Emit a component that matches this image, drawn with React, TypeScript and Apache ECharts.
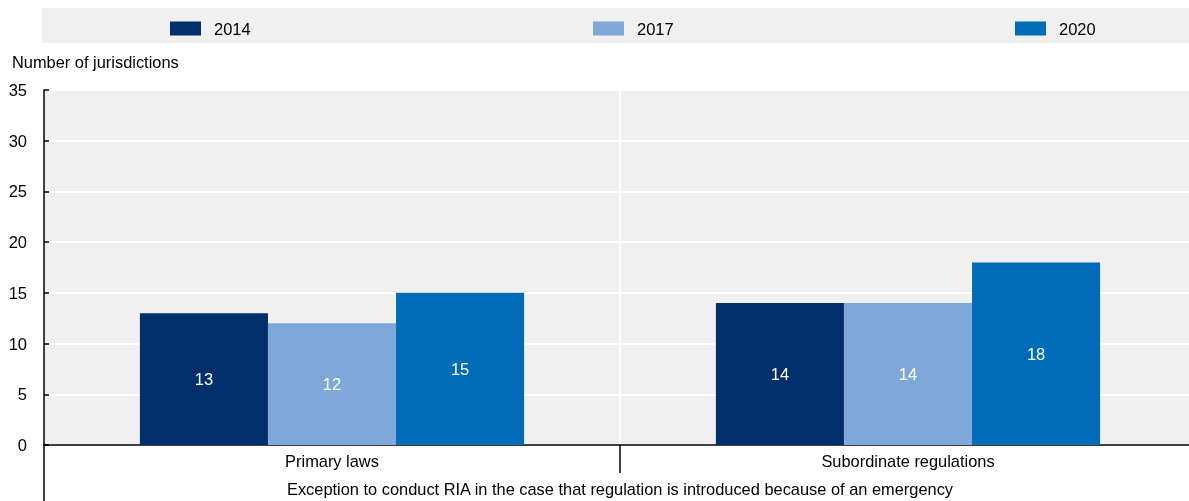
import React, { useEffect, useRef } from "react";
import * as echarts from "echarts";

const categories = ["Primary laws", "Subordinate regulations"];
const groupLabel = ["Exception to conduct RIA in the case that regulation is introduced because of an emergency"];
const seriesNames = ["2014", "2017", "2020"];
const values2014 = [13, 14];
const values2017 = [12, 14];
const values2020 = [15, 18];
const colors = ["#002F6C", "#7FA8D9", "#006BB6"];
const yTitle = "Number of jurisdictions";

const FONT = "'Liberation Sans', Arial, sans-serif";

export default function App() {
  const ref = useRef<HTMLDivElement>(null);
  useEffect(() => {
    if (!ref.current) return;
    const chart = echarts.init(ref.current, null, { renderer: "svg" });
    const data = [values2014, values2017, values2020];
    const legendLefts = [170, 593, 1015];
    chart.setOption({
      animation: false,
      textStyle: { fontFamily: FONT },
      graphic: [
        {
          type: "rect",
          left: 42,
          top: 8,
          shape: { width: 1147, height: 35 },
          style: { fill: "#f0f0f0" },
          z: -1,
        },
        {
          type: "text",
          left: 12,
          top: 54,
          style: { text: yTitle, fill: "#000", font: `16.4px ${FONT}` },
        },
      ],
      legend: seriesNames.map((n, i) => ({
        data: [n],
        left: legendLefts[i],
        top: 20,
        itemWidth: 31,
        itemHeight: 14,
        itemGap: 0,
        padding: 0,
        icon: "rect",
        selectedMode: false,
        textStyle: { fontSize: 16.5, color: "#000", fontFamily: FONT, padding: [0, 0, 0, 8] },
      })),
      grid: {
        left: 44,
        top: 90,
        width: 1152,
        height: 355,
        show: true,
        backgroundColor: "#f0f0f0",
        borderWidth: 0,
        containLabel: false,
        outerBoundsMode: "none",
      },
      xAxis: [
        {
          type: "category",
          data: categories,
          position: "bottom",
          axisLine: { show: true, lineStyle: { color: "#000", width: 1.5 } },
          axisTick: { show: true, length: 28, lineStyle: { color: "#000", width: 1.5 } },
          axisLabel: { color: "#000", fontSize: 16.4, margin: 8, fontFamily: FONT },
          splitLine: { show: true, lineStyle: { color: "#ffffff", width: 2 } },
        },
        {
          type: "category",
          data: groupLabel,
          position: "bottom",
          offset: 28,
          axisLine: { show: false },
          axisTick: { show: true, length: 28, lineStyle: { color: "#000", width: 1.5 } },
          axisLabel: { color: "#000", fontSize: 16.4, margin: 8, fontFamily: FONT },
          splitLine: { show: false },
        },
      ],
      yAxis: {
        type: "value",
        min: 0,
        max: 35,
        interval: 5,
        axisLine: { show: true, lineStyle: { color: "#000", width: 1.5 } },
        axisTick: { show: true, inside: true, length: 5, lineStyle: { color: "#000", width: 1.5 } },
        axisLabel: { color: "#000", fontSize: 16.5, margin: 17, fontFamily: FONT },
        splitLine: { show: true, lineStyle: { color: "#ffffff", width: 2 } },
      },
      series: seriesNames.map((n, i) => ({
        name: n,
        type: "bar",
        xAxisIndex: 0,
        data: data[i],
        barGap: "0%",
        barCategoryGap: "33.3%",
        itemStyle: { color: colors[i] },
        label: {
          show: true,
          position: "inside",
          color: "#fff",
          fontSize: 16.5,
          fontFamily: FONT,
        },
      })),
    });
    return () => chart.dispose();
  }, []);
  return (
    <div
      ref={ref}
      style={{ position: "fixed", left: 0, top: 0, width: 1189, height: 501 }}
    />
  );
}
